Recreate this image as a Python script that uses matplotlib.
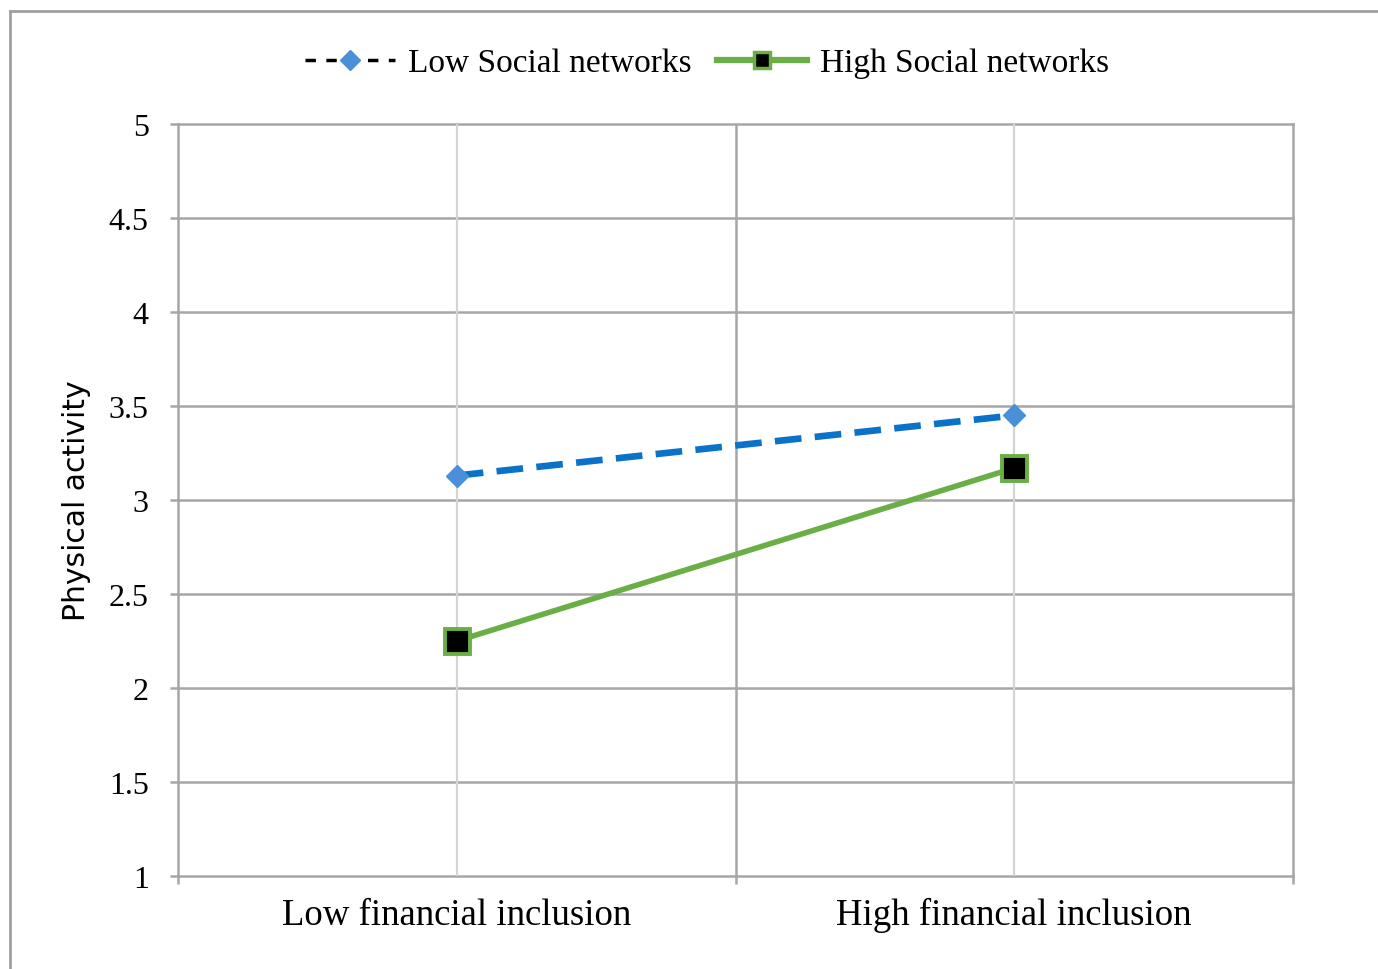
import matplotlib
matplotlib.use("Agg")
import matplotlib.pyplot as plt
from matplotlib.lines import Line2D

categories = ["Low financial inclusion", "High financial inclusion"]
low_social = [3.13, 3.45]
high_social = [2.25, 3.17]
y_ticks = [1, 1.5, 2, 2.5, 3, 3.5, 4, 4.5, 5]
y_labels = ["1", "1.5", "2", "2.5", "3", "3.5", "4", "4.5", "5"]

serif = "Liberation Serif"
grid_c = "#a6a6a6"
light_c = "#d4d4d4"
blue = "#0a73c8"
diamond = "#4a90d9"
green = "#6aaf45"

fig = plt.figure(figsize=(13.78, 9.70), dpi=100)
ax = fig.add_axes([0.1292, 0.0959, 0.8091, 0.7752])

x = list(range(len(categories)))
ax.set_xlim(-0.5, len(categories) - 0.5)
ax.set_ylim(1, 5)

# grid
for yv in y_ticks:
    ax.axhline(yv, color=grid_c, lw=1.8, zorder=1, clip_on=False)
for xv in x:
    ax.axvline(xv, color=light_c, lw=1.6, zorder=1)
ax.axvline(0.5, color=grid_c, lw=1.8, zorder=1)
ax.axvline(1.5, color=grid_c, lw=1.8, zorder=1, clip_on=False)

ax.plot(x, low_social, color=blue, lw=4.8, ls=(0, (4, 2)), marker="D",
        ms=11, mfc=diamond, mec=diamond, zorder=3)
ax.plot(x, high_social, color=green, lw=4, marker="s", ms=18,
        mfc="black", mec=green, mew=2.8, zorder=4)

for s in ["top", "right", "bottom"]:
    ax.spines[s].set_visible(False)
ax.spines["left"].set_color(grid_c)
ax.spines["left"].set_linewidth(1.8)

ax.set_yticks(y_ticks)
ax.set_yticklabels(y_labels, fontfamily=serif, fontsize=23)
ax.tick_params(axis="y", length=6, width=1.8, color=grid_c, pad=15)

ax.set_xticks([-0.5, 0.5, 1.5])
ax.set_xticklabels([])
ax.tick_params(axis="x", length=6, width=1.8, color=grid_c)
for xv, lab in zip(x, categories):
    ax.text(xv, -0.028, lab, transform=ax.get_xaxis_transform(), ha="center",
            va="top", fontfamily=serif, fontsize=26.5)

ax.set_ylabel("Physical activity", fontfamily="DejaVu Sans", fontsize=21.5)
ax.yaxis.set_label_coords(-0.078, 0.5)

handles = [
    Line2D([], [], color="black", lw=2.5, ls=(0, (3, 3)), marker="D", ms=10,
           mfc=diamond, mec=diamond),
    Line2D([], [], color=green, lw=4.5, marker="s", ms=12, mfc="black",
           mec=green, mew=2.5),
]
fig.legend(handles, ["Low Social networks", "High Social networks"],
           loc="center", bbox_to_anchor=(0.513, 0.934), ncol=2, frameon=False,
           prop={"family": serif, "size": 24}, handlelength=2.7,
           columnspacing=0.75, handletextpad=0.4)

# outer frame of the chart area
fig.add_artist(Line2D([10 / 1378, 10 / 1378], [0, 1 - 12 / 970],
                      transform=fig.transFigure, color="#a0a0a0", lw=2))
fig.add_artist(Line2D([10 / 1378, 1], [1 - 12 / 970, 1 - 12 / 970],
                      transform=fig.transFigure, color="#a0a0a0", lw=2))

fig.savefig("out.png", dpi=100, facecolor="white")
